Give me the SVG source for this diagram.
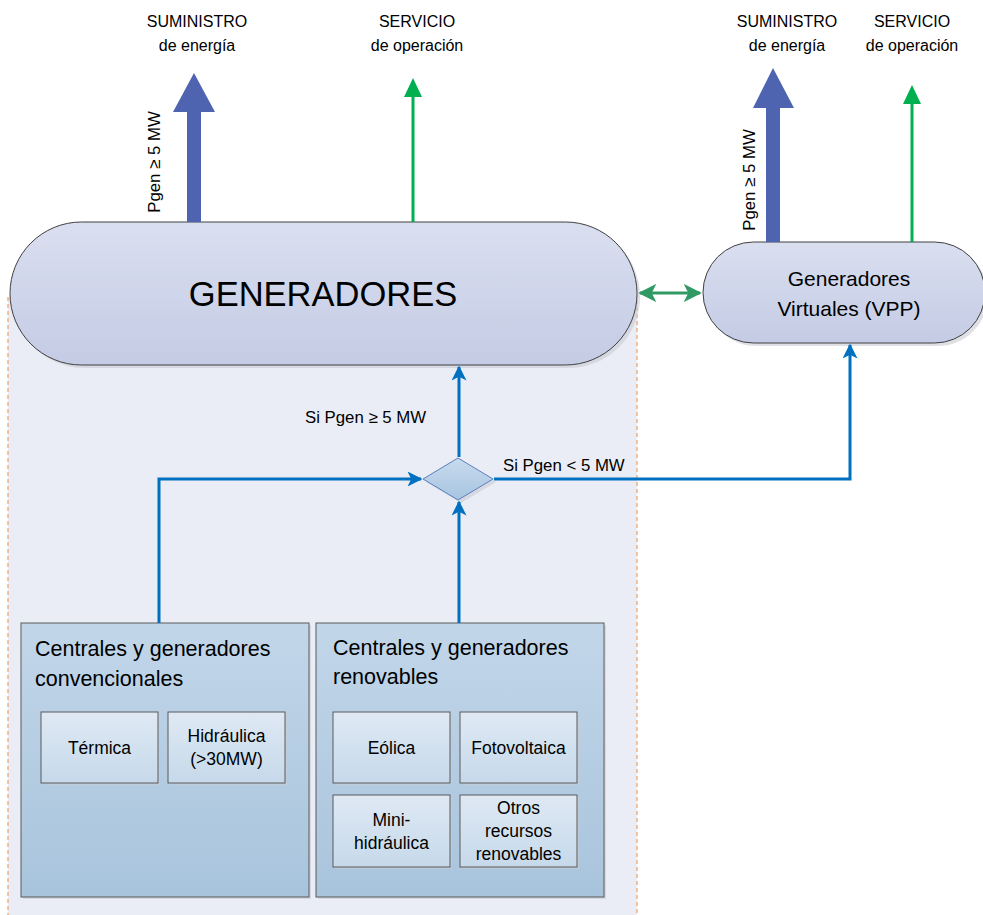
<svg xmlns="http://www.w3.org/2000/svg" width="983" height="915" viewBox="0 0 983 915">
<defs>
<linearGradient id="gStad" x1="0" y1="0" x2="0" y2="1"><stop offset="0" stop-color="#dadff0"/><stop offset="1" stop-color="#c4cbe4"/></linearGradient>
<linearGradient id="gBox" x1="0" y1="0" x2="0" y2="1"><stop offset="0" stop-color="#c2d6e9"/><stop offset="1" stop-color="#a8c4dc"/></linearGradient>
<linearGradient id="gIn" x1="0" y1="0" x2="0" y2="1"><stop offset="0" stop-color="#dfe9f4"/><stop offset="1" stop-color="#c6d9ea"/></linearGradient>
<linearGradient id="gDia" x1="0" y1="0" x2="0" y2="1"><stop offset="0" stop-color="#c8dbee"/><stop offset="1" stop-color="#a7c4e0"/></linearGradient>
<marker id="ab" viewBox="0 0 10 10" refX="9" refY="5" markerWidth="5" markerHeight="5" markerUnits="strokeWidth" orient="auto"><path d="M0,0 L10,5 L0,10 L2.5,5 Z" fill="#0070c0"/></marker>
<marker id="ag" viewBox="0 0 10 10" refX="9" refY="5" markerWidth="6" markerHeight="6" markerUnits="strokeWidth" orient="auto-start-reverse"><path d="M0,0 L10,5 L0,10 L2.5,5 Z" fill="#2f9a63"/></marker>
</defs>
<style>
text{font-family:"Liberation Sans",Arial,sans-serif;fill:#000}
.top{font-size:16px}
.lbl{font-size:16.8px}
.box{fill:url(#gBox);stroke:#5a5a5a;stroke-width:1}
.inb{fill:url(#gIn);stroke:#5a5a5a;stroke-width:1}
.sh{fill:#c8ccd4;opacity:0.6}
.bt{font-size:21.5px}
.it{font-size:17.5px;text-anchor:middle}
.conn{fill:none;stroke:#0070c0;stroke-width:3;marker-end:url(#ab)}
.big{fill:#4e64b0}
.gr{stroke:#00b050;stroke-width:3;fill:none}
.grh{fill:#00b050}
</style>
<rect width="983" height="915" fill="#ffffff"/>
<g id="container">
<rect x="8" y="297" width="629" height="620" fill="#eaedf5"/>
<line x1="8" y1="297" x2="8" y2="915" stroke="#f0a060" stroke-width="1.2" stroke-dasharray="4,3"/>
<line x1="637" y1="300" x2="637" y2="915" stroke="#f0a060" stroke-width="1.2" stroke-dasharray="4,3"/>
</g>
<g id="generadores">
<rect x="13" y="225" width="627" height="143" rx="71.5" class="sh"/>
<rect x="10" y="222" width="627" height="143" rx="71.5" fill="url(#gStad)" stroke="#404040" stroke-width="1"/>
<text x="323" y="306" font-size="34.5" text-anchor="middle">GENERADORES</text>
</g>
<g id="vpp">
<rect x="706" y="245" width="282" height="101" rx="50.5" class="sh"/>
<rect x="703" y="242" width="282" height="101" rx="50.5" fill="url(#gStad)" stroke="#404040" stroke-width="1"/>
<text x="849" y="286" font-size="21" text-anchor="middle">Generadores</text>
<text x="849" y="316" font-size="21" text-anchor="middle">Virtuales (VPP)</text>
</g>
<g id="decision">
<polygon points="461,461 496,482 461,503 426,482" class="sh"/>
<polygon points="458,458 493,479 458,500 423,479" fill="url(#gDia)" stroke="#5b7fc0" stroke-width="1"/>
</g>
<g id="convencionales">
<rect x="23" y="625" width="288" height="274" class="sh"/>
<rect x="21" y="623" width="288" height="274" class="box"/>
<text x="35" y="656" class="bt">Centrales y generadores</text>
<text x="35" y="686" class="bt">convencionales</text>
<g id="termica"><rect x="43" y="714" width="117" height="71" class="sh"/><rect x="41" y="712" width="117" height="71" class="inb"/><text x="99.5" y="754" class="it">Térmica</text></g>
<g id="hidraulica"><rect x="170" y="714" width="117" height="71" class="sh"/><rect x="168" y="712" width="117" height="71" class="inb"/><text x="226.5" y="742" class="it">Hidráulica</text><text x="226.5" y="765" class="it">(&gt;30MW)</text></g>
</g>
<g id="renovables">
<rect x="318" y="625" width="288" height="274" class="sh"/>
<rect x="316" y="623" width="288" height="274" class="box"/>
<text x="333" y="655" class="bt">Centrales y generadores</text>
<text x="333" y="684" class="bt">renovables</text>
<g id="eolica"><rect x="335" y="714" width="117" height="71" class="sh"/><rect x="333" y="712" width="117" height="71" class="inb"/><text x="391.5" y="754" class="it">Eólica</text></g>
<g id="fotovoltaica"><rect x="462" y="714" width="117" height="71" class="sh"/><rect x="460" y="712" width="117" height="71" class="inb"/><text x="518.5" y="754" class="it">Fotovoltaica</text></g>
<g id="minihidraulica"><rect x="335" y="797" width="117" height="72" class="sh"/><rect x="333" y="795" width="117" height="72" class="inb"/><text x="391.5" y="826" class="it">Mini-</text><text x="391.5" y="849" class="it">hidráulica</text></g>
<g id="otros"><rect x="462" y="797" width="117" height="72" class="sh"/><rect x="460" y="795" width="117" height="72" class="inb"/><text x="518.5" y="814" class="it">Otros</text><text x="518.5" y="837" class="it">recursos</text><text x="518.5" y="860" class="it">renovables</text></g>
</g>
<g id="connectors">
<path d="M159,623 V479 H421" class="conn"/>
<path d="M459,623 V502" class="conn"/>
<path d="M459,457 V367" class="conn"/>
<path d="M494,479 H850 V345" class="conn"/>
<line x1="640" y1="293" x2="700" y2="293" stroke="#2f9a63" stroke-width="3" marker-start="url(#ag)" marker-end="url(#ag)"/>
<polygon points="187,222 187,112 173,112 194,73 215,112 201,112 201,222" class="big"/>
<polygon points="766,242 766,108 753,108 773,68 794,108 780,108 780,242" class="big"/>
<line x1="413" y1="222" x2="413" y2="95" class="gr"/>
<polygon points="404,97 413,78 422,97" class="grh"/>
<line x1="912" y1="242" x2="912" y2="102" class="gr"/>
<polygon points="903,104 912,85 921,104" class="grh"/>
</g>
<g id="labels">
<text x="197" y="27" class="top" text-anchor="middle">SUMINISTRO</text>
<text x="197" y="51" class="top" text-anchor="middle">de energía</text>
<text x="417" y="27" class="top" text-anchor="middle">SERVICIO</text>
<text x="417" y="51" class="top" text-anchor="middle">de operación</text>
<text x="787" y="27" class="top" text-anchor="middle">SUMINISTRO</text>
<text x="787" y="51" class="top" text-anchor="middle">de energía</text>
<text x="912" y="27" class="top" text-anchor="middle">SERVICIO</text>
<text x="912" y="51" class="top" text-anchor="middle">de operación</text>
<text transform="translate(160,162) rotate(-90)" class="lbl" text-anchor="middle">Pgen ≥ 5 MW</text>
<text transform="translate(755,180) rotate(-90)" class="lbl" text-anchor="middle">Pgen ≥ 5 MW</text>
<text x="305" y="423" class="lbl">Si Pgen ≥ 5 MW</text>
<text x="503" y="471" class="lbl">Si Pgen &lt; 5 MW</text>
</g>
</svg>
